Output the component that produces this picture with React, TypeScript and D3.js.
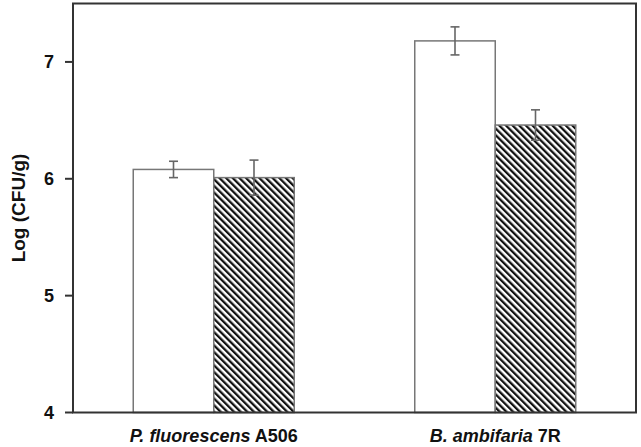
import React from "react";
import * as d3 from "d3";

const categories = ["P. fluorescens A506", "B. ambifaria 7R"];
const catItalic = ["P. fluorescens", "B. ambifaria"];
const catPlain = ["A506", "7R"];
const series = ["open", "hatched"];
const openValues = [6.08, 7.18];
const openErrors = [0.07, 0.12];
const hatchedValues = [6.01, 6.46];
const hatchedErrors = [0.15, 0.13];
const yTicks = [4, 5, 6, 7];

const W = 641;
const H = 447;
const m = { left: 73, right: 5, top: 3.5, bottom: 34.5 };

export default function App() {
  const x = d3
    .scaleBand<string>()
    .domain(categories)
    .range([m.left, W - m.right])
    .padding(0);
  const y = d3.scaleLinear().domain([4, 7.5]).range([H - m.bottom, m.top]);
  const inner = d3
    .scaleBand<string>()
    .domain(series)
    .range([0, 161])
    .padding(0);
  const barW = inner.bandwidth();
  const vals = [openValues, hatchedValues];
  const errs = [openErrors, hatchedErrors];
  const font = "'Liberation Sans', Arial, sans-serif";

  return (
    <div style={{ position: "fixed", left: 0, top: 0 }}>
      <svg width={W} height={H} style={{ display: "block", background: "#fff" }}>
        <defs>
          <pattern
            id="hatch"
            patternUnits="userSpaceOnUse"
            width={4.7}
            height={4.7}
            patternTransform="rotate(-45)"
          >
            <rect width={4.7} height={4.7} fill="#fff" />
            <rect x={0} y={0} width={2.3} height={4.7} fill="#111" />
          </pattern>
        </defs>
        {categories.map((c, ci) => {
          const cx = (x(c) as number) + x.bandwidth() / 2;
          const gx = cx - inner.range()[1] / 2;
          return (
            <g key={c}>
              {series.map((s, si) => {
                const v = vals[si][ci];
                const e = errs[si][ci];
                const bx = gx + (inner(s) as number);
                const mid = bx + barW / 2;
                return (
                  <g key={s}>
                    <rect
                      x={bx}
                      y={y(v)}
                      width={barW}
                      height={y(4) - y(v)}
                      fill={si === 0 ? "#fff" : "url(#hatch)"}
                      stroke="#777"
                      strokeWidth={1.5}
                    />
                    <line x1={mid} x2={mid} y1={y(v + e)} y2={y(v - e)} stroke="#666" strokeWidth={1.6} />
                    <line x1={mid - 4.5} x2={mid + 4.5} y1={y(v + e)} y2={y(v + e)} stroke="#666" strokeWidth={1.6} />
                    <line x1={mid - 4.5} x2={mid + 4.5} y1={y(v - e)} y2={y(v - e)} stroke="#666" strokeWidth={1.6} />
                  </g>
                );
              })}
              <text
                x={cx}
                y={H - 5}
                textAnchor="middle"
                fontFamily={font}
                fontWeight="bold"
                fontSize={18}
                fill="#111"
              >
                <tspan fontStyle="italic">{catItalic[ci]}</tspan>
                <tspan>{" " + catPlain[ci]}</tspan>
              </text>
            </g>
          );
        })}
        <rect
          x={m.left}
          y={m.top}
          width={W - m.right - m.left}
          height={H - m.bottom - m.top}
          fill="none"
          stroke="#333"
          strokeWidth={2}
        />
        {yTicks.map((t) => (
          <g key={t}>
            <line x1={m.left - 8} x2={m.left} y1={y(t)} y2={y(t)} stroke="#333" strokeWidth={2} />
            <text
              x={m.left - 19}
              y={y(t)}
              dy="0.36em"
              textAnchor="end"
              fontFamily={font}
              fontWeight="bold"
              fontSize={18}
              fill="#111"
            >
              {t}
            </text>
          </g>
        ))}
        <text
          transform={`translate(25,${(m.top + H - m.bottom) / 2}) rotate(-90)`}
          textAnchor="middle"
          fontFamily={font}
          fontWeight="bold"
          fontSize={19}
          fill="#111"
        >
          Log (CFU/g)
        </text>
      </svg>
    </div>
  );
}
